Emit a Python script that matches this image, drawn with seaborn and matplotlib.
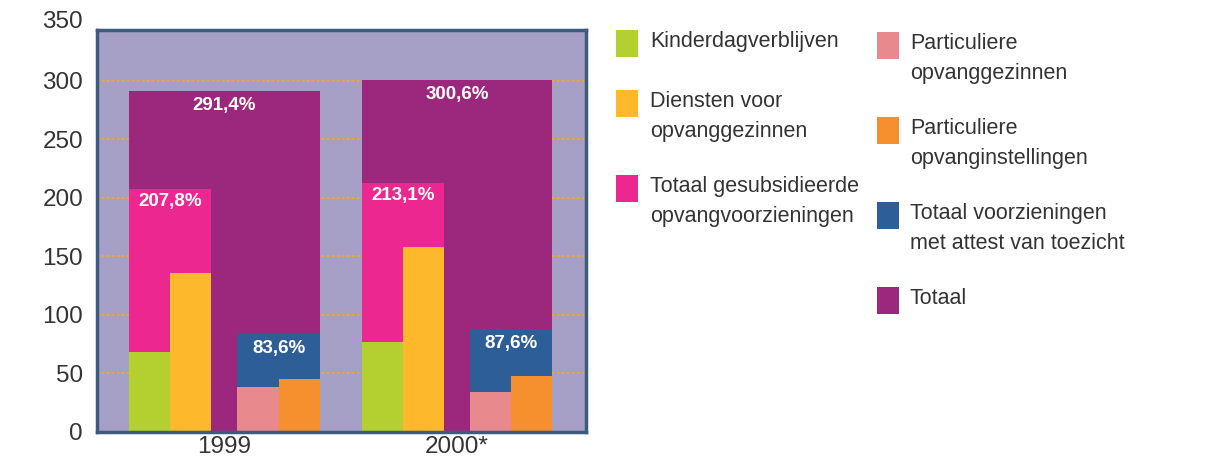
import matplotlib
matplotlib.use("Agg")
import matplotlib.pyplot as plt
import seaborn as sns
import pandas as pd
from matplotlib.patches import Rectangle
from matplotlib.transforms import blended_transform_factory

# values (percentages)
years = ["1999", "2000*"]
totaal = [291.4, 300.6]
totaal_gesubsidieerd = [207.8, 213.1]
totaal_attest = [83.6, 87.6]
kinderdagverblijven = [68.1, 77.2]
diensten_opvanggezinnen = [135.6, 157.9]
particuliere_opvanggezinnen = [38.7, 33.9]
particuliere_opvanginstellingen = [45.3, 47.9]
y_ticks = [0, 50, 100, 150, 200, 250, 300]

legend_col1 = [
    ("Kinderdagverblijven", "#b3cf30"),
    ("Diensten voor\nopvanggezinnen", "#fdb82c"),
    ("Totaal gesubsidieerde\nopvangvoorzieningen", "#ec2790"),
]
legend_col2 = [
    ("Particuliere\nopvanggezinnen", "#e8898d"),
    ("Particuliere\nopvanginstellingen", "#f68f2e"),
    ("Totaal voorzieningen\nmet attest van toezicht", "#2e5e98"),
    ("Totaal", "#9b287d"),
]

sns.set_style("white")
plt.rcParams["font.family"] = ["Liberation Sans", "DejaVu Sans"]

W, H = 1225, 458
fig = plt.figure(figsize=(W / 100, H / 100), dpi=100)
fig.patch.set_facecolor("white")
ax = fig.add_axes([97 / W, 1 - 432 / H, (586 - 97) / W, (432 - 30) / H])
ax.set_facecolor("#a69fc6")

pos = [0, 1]
small_w = 0.177
half_w = 2 * small_w
off = 0.233


def draw(values, shift, width, color):
    df = pd.DataFrame({"x": [p + shift for p in pos], "y": values})
    sns.barplot(data=df, x="x", y="y", native_scale=True, width=width,
                color=color, saturation=1, errorbar=None, linewidth=0,
                ax=ax, zorder=2)


draw(totaal, 0, 2 * half_w + (2 * off - half_w), "#9b287d")
draw(totaal_gesubsidieerd, -off, half_w, "#ec2790")
draw(totaal_attest, off, half_w, "#2e5e98")
draw(kinderdagverblijven, -off - small_w / 2, small_w, "#b3cf30")
draw(diensten_opvanggezinnen, -off + small_w / 2, small_w, "#fdb82c")
draw(particuliere_opvanggezinnen, off - small_w / 2, small_w, "#e8898d")
draw(particuliere_opvanginstellingen, off + small_w / 2, small_w, "#f68f2e")

# value labels
lab = dict(color="white", fontsize=13.5, fontweight="bold", ha="center",
           va="center", zorder=5)
for i, p in enumerate(pos):
    ax.text(p, totaal[i] - 12, f"{totaal[i]:.1f}%".replace(".", ","), **lab)
    ax.text(p - off, totaal_gesubsidieerd[i] - 11,
            f"{totaal_gesubsidieerd[i]:.1f}%".replace(".", ","), **lab)
    ax.text(p + off, totaal_attest[i] - 12,
            f"{totaal_attest[i]:.1f}%".replace(".", ","), **lab)

ax.set_xlim(-0.548, 1.555)
ax.set_ylim(0, 343.5)
ax.set_yticks(y_ticks)
ax.set_yticklabels([str(t) for t in y_ticks])
ax.set_xticks(pos)
ax.set_xticklabels(years)
ax.set_xlabel("")
ax.set_ylabel("")
ax.tick_params(axis="both", length=0, labelsize=17.5, colors="#333333")
ax.tick_params(axis="y", pad=10)
ax.tick_params(axis="x", pad=3)
# top tick value lies above the frame in the reference
tr = blended_transform_factory(ax.transAxes, ax.transData)
ax.text(-14 / (586 - 97), 350, "350", transform=tr,
        ha="right", va="center", fontsize=17.5, color="#333333", clip_on=False)

ax.set_axisbelow(True)
ax.yaxis.grid(True, linestyle=(0, (1.2, 1.2)), color="#f7a81a", linewidth=1.5)
for s in ax.spines.values():
    s.set_visible(True)
    s.set_color("#3e5a7e")
    s.set_linewidth(2.5)


def legend_column(items, x_sw, x_txt, tops):
    for (text, color), top in zip(items, tops):
        fig.add_artist(Rectangle((x_sw / W, 1 - (top + 27) / H), 22 / W, 27 / H,
                                 transform=fig.transFigure, facecolor=color,
                                 edgecolor="none"))
        fig.text(x_txt / W, 1 - (top + 1) / H, text, ha="left", va="top",
                 fontsize=15.5, color="#333333", linespacing=1.55)


legend_column(legend_col1, 616, 650, [30, 90, 175])
legend_column(legend_col2, 877, 910, [32, 117, 202, 287])

fig.savefig("out.png", dpi=100)
